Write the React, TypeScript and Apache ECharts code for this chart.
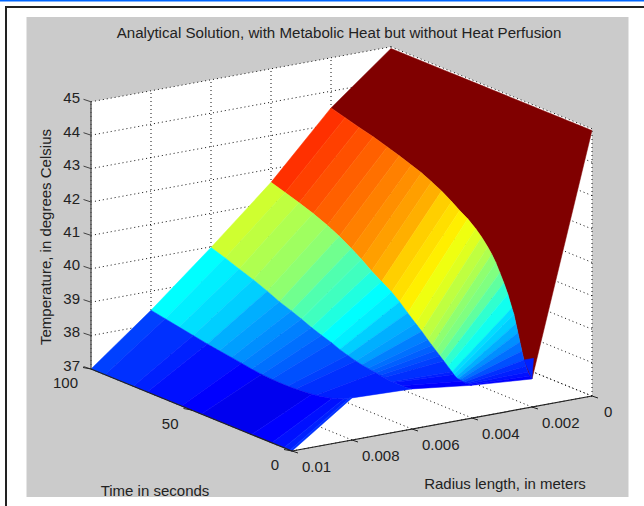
import React, { useEffect, useRef } from "react";
import * as echarts from "echarts";

const FONT = '"Liberation Sans", Arial, sans-serif';
const titleText = "Analytical Solution, with Metabolic Heat but without Heat Perfusion";
const yName = "Temperature, in degrees Celsius";
const timeName = "Time in seconds";
const radiusName = "Radius length, in meters";

const radiusTicks = [0, 0.002, 0.004, 0.006, 0.008, 0.01];
const radiusLabels = ["0", "0.002", "0.004", "0.006", "0.008", "0.01"];
const timeTicks = [0, 50, 100];
const timeLabels = ["0", "50", "100"];
const tempTicks = [37, 38, 39, 40, 41, 42, 43, 44, 45];

const radii = [0, 0.002, 0.004, 0.006, 0.008, 0.01];
const times = [0, 1, 2, 3, 4, 5, 6, 7, 8, 9, 10, 12, 14, 16, 18, 20, 22, 25, 28, 32, 36, 40, 45, 50, 55, 60, 66, 72, 79, 86, 93, 100];

const tempR0 = [44.95, 44.95, 44.95, 44.95, 44.95, 44.95, 44.95, 44.95, 44.95, 44.95, 44.95, 44.95, 44.95, 44.95, 44.95, 44.95, 44.95, 44.95, 44.95, 44.95, 44.95, 44.95, 44.95, 44.95, 44.95, 44.95, 44.95, 44.95, 44.95, 44.95, 44.95, 44.95];
const tempR2 = [37.84, 37.9, 38.0, 38.15, 38.31, 38.55, 38.8, 39.05, 39.3, 39.55, 39.72, 40.08, 40.37, 40.63, 40.88, 41.08, 41.25, 41.47, 41.65, 41.85, 42.0, 42.17, 42.36, 42.52, 42.66, 42.77, 42.9, 43.02, 43.15, 43.26, 43.38, 43.5];
const tempR4 = [37.98, 37.97, 37.97, 37.96, 37.97, 37.98, 38.0, 38.0, 38.03, 38.08, 38.14, 38.25, 38.36, 38.47, 38.58, 38.69, 38.8, 38.98, 39.14, 39.36, 39.59, 39.79, 39.98, 40.17, 40.4, 40.6, 40.82, 41.0, 41.18, 41.33, 41.47, 41.6];
const tempR6 = [38.2, 38.19, 38.18, 38.17, 38.17, 38.17, 38.17, 38.17, 38.17, 38.17, 38.17, 38.18, 38.2, 38.22, 38.24, 38.26, 38.28, 38.31, 38.35, 38.42, 38.5, 38.6, 38.7, 38.81, 38.94, 39.06, 39.19, 39.36, 39.53, 39.68, 39.84, 39.98];
const tempR8 = [38.26, 38.25, 38.2, 38.17, 38.14, 38.11, 38.09, 38.07, 38.05, 38.02, 38.0, 37.97, 37.94, 37.92, 37.9, 37.88, 37.87, 37.85, 37.84, 37.83, 37.83, 37.84, 37.86, 37.9, 37.95, 38.0, 38.05, 38.11, 38.19, 38.27, 38.35, 38.43];
const tempR10 = [37, 37, 37, 37, 37, 37, 37, 37, 37, 37, 37, 37, 37, 37, 37, 37, 37, 37, 37, 37, 37, 37, 37, 37, 37, 37, 37, 37, 37, 37, 37, 37];
const temps = [tempR0, tempR2, tempR4, tempR6, tempR8, tempR10];

// the small blue facet at the foot of the dark-red strip
const footRadius = [0.002, 0.00195, 0.002];
const footTime = [0, 0, 4];
const footTemp = [37.84, 38.45, 38.31];
const footColorTemp = 38.2;

const project = (r: number, t: number, T: number): number[] => [
  592 - r * 30000 - t * 2.01,
  396 + r * 5500 - t * 0.82 - (T - 37) * 33.4,
];

function jet(T: number) {
  const i = Math.max(0, Math.min(63, Math.floor(((T - 37) / 8) * 64)));
  const x = (i + 1) / 64;
  const c = (v: number) => Math.round(255 * Math.max(0, Math.min(1, 1.5 - Math.abs(4 * x - v))));
  return `rgb(${c(3)},${c(2)},${c(1)})`;
}

// neighbouring facets of a band that share a colour are drawn as one shape
const facets: number[][] = [];
for (let i = 0; i < radii.length - 1; i++) {
  let hi = times.length - 1;
  for (let j = times.length - 2; j >= 0; j--) {
    const next = j > 0 ? jet(temps[i][j]) : "";
    if (next !== jet(temps[i][hi])) {
      facets.push([i, j, hi]);
      hi = j;
    }
  }
}

const axisBase = () => ({ show: false, type: "value", min: 0 });

export default function App() {
  const ref = useRef<HTMLDivElement>(null);
  useEffect(() => {
    document.body.style.margin = "0";
    const chart = echarts.init(ref.current!, null, { renderer: "svg" });
    const P = (api: any, r: number, t: number, T: number) => api.coord(project(r, t, T));
    const dot = { stroke: "#111", lineWidth: 1, lineDash: [1, 3] };
    const seg = (a: number[], b: number[], style: any) => ({
      type: "line",
      shape: { x1: a[0], y1: a[1], x2: b[0], y2: b[1] },
      style,
    });
    const label = (text: string, x: number, y: number, align: string) => ({
      type: "text",
      style: { text, x, y, align, verticalAlign: "middle", fill: "#222", font: `15px ${FONT}` },
    });

    const option: any = {
      animation: false,
      backgroundColor: "#ffffff",
      grid: { left: 0, right: 0, top: 0, bottom: 0 },
      xAxis: { ...axisBase(), max: 644 },
      yAxis: { ...axisBase(), max: 506, inverse: true },
      title: {
        text: titleText,
        left: 334,
        top: 20,
        textAlign: "center",
        textStyle: { fontFamily: FONT, fontSize: 15.1, fontWeight: "normal", color: "#222" },
      },
      graphic: [
        { type: "rect", shape: { x: 0, y: 0, width: 644, height: 1.5 }, style: { fill: "#0066ff" } },
        { type: "rect", shape: { x: 5, y: 6, width: 639, height: 2 }, style: { fill: "#222" } },
        { type: "rect", shape: { x: 5, y: 6, width: 2, height: 500 }, style: { fill: "#222" } },
        { type: "rect", shape: { x: 26.5, y: 17, width: 602, height: 480 }, style: { fill: "#cbcbcb" } },
        {
          type: "text",
          x: 45,
          y: 237,
          rotation: Math.PI / 2,
          style: { text: yName, fill: "#222", font: `15px ${FONT}`, align: "center", verticalAlign: "middle" },
        },
        { type: "text", x: 155, y: 490, style: { text: timeName, fill: "#222", font: `15px ${FONT}`, align: "center", verticalAlign: "middle" } },
        { type: "text", x: 505, y: 483, style: { text: radiusName, fill: "#222", font: `15px ${FONT}`, align: "center", verticalAlign: "middle" } },
      ],
      series: [
        {
          type: "custom",
          name: "walls and grid",
          coordinateSystem: "cartesian2d",
          clip: false,
          silent: true,
          data: [[0, 0]],
          renderItem: (_: any, api: any) => {
            const rMax = radiusTicks[radiusTicks.length - 1];
            const tMax = timeTicks[timeTicks.length - 1];
            const zMin = tempTicks[0];
            const zMax = tempTicks[tempTicks.length - 1];
            const wall = (pts: number[][]) => ({
              type: "polygon",
              shape: { points: pts.map((p) => P(api, p[0], p[1], p[2])) },
              style: { fill: "#ffffff" },
            });
            const kids: any[] = [
              wall([[rMax, tMax, zMin], [rMax, tMax, zMax], [0, tMax, zMax], [0, tMax, zMin]]),
              wall([[0, tMax, zMin], [0, tMax, zMax], [0, 0, zMax], [0, 0, zMin]]),
              wall([[rMax, tMax, zMin], [rMax, 0, zMin], [0, 0, zMin], [0, tMax, zMin]]),
            ];
            tempTicks.forEach((T) => {
              kids.push(seg(P(api, rMax, tMax, T), P(api, 0, tMax, T), dot));
              kids.push(seg(P(api, 0, tMax, T), P(api, 0, 0, T), dot));
            });
            radiusTicks.forEach((r) => {
              kids.push(seg(P(api, r, tMax, zMin), P(api, r, tMax, zMax), dot));
              kids.push(seg(P(api, r, tMax, zMin), P(api, r, 0, zMin), dot));
            });
            timeTicks.forEach((t) => {
              kids.push(seg(P(api, 0, t, zMin), P(api, 0, t, zMax), dot));
              kids.push(seg(P(api, rMax, t, zMin), P(api, 0, t, zMin), dot));
            });
            return { type: "group", children: kids };
          },
        },
        {
          type: "custom",
          name: "surface",
          coordinateSystem: "cartesian2d",
          clip: false,
          silent: true,
          data: facets,
          renderItem: (_: any, api: any) => {
            const i = api.value(0);
            const lo = api.value(1);
            const hi = api.value(2);
            const color = jet(temps[i][hi]);
            const near: number[][] = [];
            const far: number[][] = [];
            for (let j = lo; j <= hi; j++) {
              near.push(P(api, radii[i], times[j], temps[i][j]));
              far.unshift(P(api, radii[i + 1], times[j], temps[i + 1][j]));
            }
            return {
              type: "polygon",
              shape: { points: near.concat(far) },
              style: { fill: color, stroke: color, lineWidth: 0.5 },
            };
          },
        },
        {
          type: "custom",
          name: "foot",
          coordinateSystem: "cartesian2d",
          clip: false,
          silent: true,
          data: [[0, 0]],
          renderItem: (_: any, api: any) => ({
            type: "polygon",
            shape: { points: footRadius.map((r, k) => P(api, r, footTime[k], footTemp[k])) },
            style: { fill: jet(footColorTemp), stroke: jet(footColorTemp), lineWidth: 0.5 },
          }),
        },
        {
          type: "custom",
          name: "axes",
          coordinateSystem: "cartesian2d",
          clip: false,
          silent: true,
          data: [[0, 0]],
          renderItem: (_: any, api: any) => {
            const rMax = radiusTicks[radiusTicks.length - 1];
            const tMax = timeTicks[timeTicks.length - 1];
            const zMin = tempTicks[0];
            const zMax = tempTicks[tempTicks.length - 1];
            const dark = { stroke: "#222", lineWidth: 1.2 };
            const grey = { stroke: "#555", lineWidth: 1.4 };
            const kids: any[] = [
              seg(P(api, rMax, tMax, zMin), P(api, rMax, tMax, zMax), grey),
              seg(P(api, rMax, tMax, zMin), P(api, rMax, 0, zMin), dark),
              seg(P(api, rMax, 0, zMin), P(api, 0, 0, zMin), dark),
            ];
            tempTicks.forEach((T) => {
              const a = P(api, rMax, tMax, T);
              kids.push(seg(a, [a[0] - 7.5, a[1] - 2.5], { stroke: "#444", lineWidth: 1 }));
              kids.push(label(String(T), a[0] - 11, a[1] - 4, "right"));
            });
            radiusTicks.forEach((r, k) => {
              const a = P(api, r, 0, zMin);
              kids.push(seg(a, [a[0] + 6, a[1] + 2], { stroke: "#222", lineWidth: 1 }));
              kids.push(label(radiusLabels[k], a[0] + (k === 0 ? 12 : 10), a[1] + 15, "left"));
            });
            timeTicks.forEach((t, k) => {
              const a = P(api, rMax, t, zMin);
              kids.push(seg(a, [a[0] - 8, a[1] - 1.5], { stroke: "#222", lineWidth: 1 }));
              kids.push(label(timeLabels[k], a[0] - 13, a[1] + 13, "right"));
            });
            return { type: "group", children: kids };
          },
        },
      ],
    };
    chart.setOption(option);
    return () => chart.dispose();
  }, []);
  return <div ref={ref} style={{ position: "absolute", left: 0, top: 0, width: 644, height: 506 }} />;
}
